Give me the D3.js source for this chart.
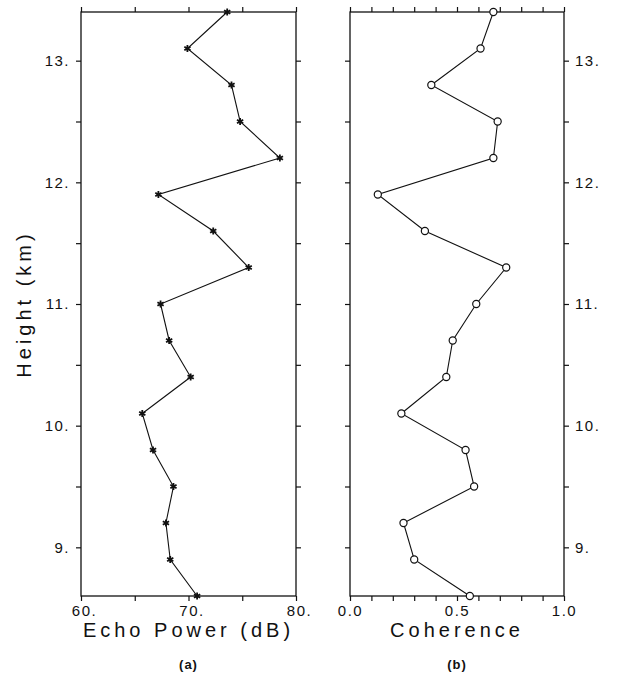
<!DOCTYPE html>
<html>
<head>
<meta charset="utf-8">
<script src="https://cdn.jsdelivr.net/npm/d3@7"></script>
<style>
  body { margin: 0; background: #fff; }
  svg text { font-family: "Liberation Sans", "DejaVu Sans", sans-serif; fill: #111; }
  .tick line { stroke: #111; stroke-width: 1.2; }
  .tick text { font-size: 15px; letter-spacing: 1.5px; }
  .frame { fill: none; stroke: #111; stroke-width: 1.3; }
  .profile { fill: none; stroke: #111; stroke-width: 1.1; }
  .axis-title { font-size: 20px; letter-spacing: 4px; }
  .panel-tag { font-size: 13px; font-weight: bold; letter-spacing: 1px; }
</style>
</head>
<body>
<div id="chart"></div>
<script>
// Height levels (km), bottom to top
const heights = [8.6, 8.9, 9.2, 9.5, 9.8, 10.1, 10.4, 10.7, 11.0, 11.3, 11.6, 11.9, 12.2, 12.5, 12.8, 13.1, 13.4];
// (a) echo power, dB
const echoPower = [70.8, 68.3, 67.9, 68.6, 66.7, 65.7, 70.2, 68.2, 67.4, 75.6, 72.3, 67.2, 78.5, 74.8, 74.0, 69.9, 73.6];
// (b) coherence
const coherence = [0.56, 0.30, 0.25, 0.58, 0.54, 0.24, 0.45, 0.48, 0.59, 0.73, 0.35, 0.13, 0.67, 0.69, 0.38, 0.61, 0.67];

const heightTicks = [9, 9.5, 10, 10.5, 11, 11.5, 12, 12.5, 13];
const powerTicks = [60, 65, 70, 75, 80];
const cohTicks = [0, 0.1, 0.2, 0.3, 0.4, 0.5, 0.6, 0.7, 0.8, 0.9, 1.0];

const width = 626, height = 690;
const plotTop = 12, plotBottom = 596;

const svg = d3.select('#chart').append('svg')
    .attr('width', width)
    .attr('height', height);

const y = d3.scaleLinear().domain([8.6, 13.4]).range([plotBottom, plotTop]);

const isWhole = d => Math.abs(d - Math.round(d)) < 1e-9;
const isHalf = d => Math.abs(d * 2 - Math.round(d * 2)) < 1e-9;

function drawPanel(opts) {
    const x = d3.scaleLinear().domain(opts.domain).range([opts.left, opts.right]);
    const g = svg.append('g');
    const tick = 5;

    // bottom axis with labels
    const bx = g.append('g')
        .attr('transform', `translate(0,${plotBottom})`)
        .call(d3.axisBottom(x).tickValues(opts.xTicks).tickSize(tick).tickSizeOuter(0)
            .tickPadding(4).tickFormat(opts.xFormat));
    bx.select('.domain').remove();
    bx.selectAll('text').attr('dx', opts.xLabelShift);

    // top axis, ticks only
    const tx = g.append('g')
        .attr('transform', `translate(0,${plotTop})`)
        .call(d3.axisTop(x).tickValues(opts.xTicks).tickSize(tick).tickSizeOuter(0).tickFormat(''));
    tx.select('.domain').remove();

    // left and right height axes
    const ly = g.append('g')
        .attr('transform', `translate(${opts.left},0)`)
        .call(d3.axisLeft(y).tickValues(heightTicks).tickSize(tick).tickSizeOuter(0).tickPadding(6)
            .tickFormat(opts.labelsLeft ? (d => isWhole(d) ? d + '.' : '') : ''));
    ly.select('.domain').remove();

    const ry = g.append('g')
        .attr('transform', `translate(${opts.right},0)`)
        .call(d3.axisRight(y).tickValues(heightTicks).tickSize(tick).tickSizeOuter(0).tickPadding(6)
            .tickFormat(opts.labelsLeft ? '' : (d => isWhole(d) ? d + '.' : '')));
    ry.select('.domain').remove();

    g.append('rect')
        .attr('class', 'frame')
        .attr('x', opts.left)
        .attr('y', plotTop)
        .attr('width', opts.right - opts.left)
        .attr('height', plotBottom - plotTop);

    const pts = heights.map((h, i) => [x(opts.values[i]), y(h)]);
    g.append('path')
        .attr('class', 'profile')
        .attr('d', d3.line()(pts));

    g.selectAll('.marker')
        .data(pts)
        .join('path')
        .attr('class', 'marker')
        .attr('transform', d => `translate(${d[0]},${d[1]})`)
        .attr('d', opts.symbol)
        .attr('fill', opts.fill)
        .attr('stroke', '#111')
        .attr('stroke-width', opts.strokeWidth);

    const cx = (opts.left + opts.right) / 2;
    g.append('text')
        .attr('class', 'axis-title')
        .attr('x', cx)
        .attr('y', 637)
        .attr('text-anchor', 'middle')
        .text(opts.title);

    g.append('text')
        .attr('class', 'panel-tag')
        .attr('x', cx)
        .attr('y', 669)
        .attr('text-anchor', 'middle')
        .text(opts.tag);
}

drawPanel({
    left: 81, right: 296,
    domain: [60, 80],
    xTicks: powerTicks,
    xFormat: d => d % 10 === 0 ? d + '.' : '',
    xLabelShift: 3,
    labelsLeft: true,
    values: echoPower,
    symbol: d3.symbol().type(d3.symbolAsterisk).size(36)(),
    fill: 'none',
    strokeWidth: 1.8,
    title: 'Echo Power (dB)',
    tag: '(a)'
});

drawPanel({
    left: 350, right: 564,
    domain: [0, 1],
    xTicks: cohTicks,
    xFormat: d => isHalf(d) ? d3.format('.1f')(d) : '',
    xLabelShift: 0,
    labelsLeft: false,
    values: coherence,
    symbol: d3.symbol().type(d3.symbolCircle).size(40)(),
    fill: '#fff',
    strokeWidth: 1.2,
    title: 'Coherence',
    tag: '(b)'
});

// shared height title
svg.append('text')
    .attr('class', 'axis-title')
    .attr('transform', `translate(31,${(plotTop + plotBottom) / 2}) rotate(-90)`)
    .attr('text-anchor', 'middle')
    .text('Height (km)');
</script>
</body>
</html>
